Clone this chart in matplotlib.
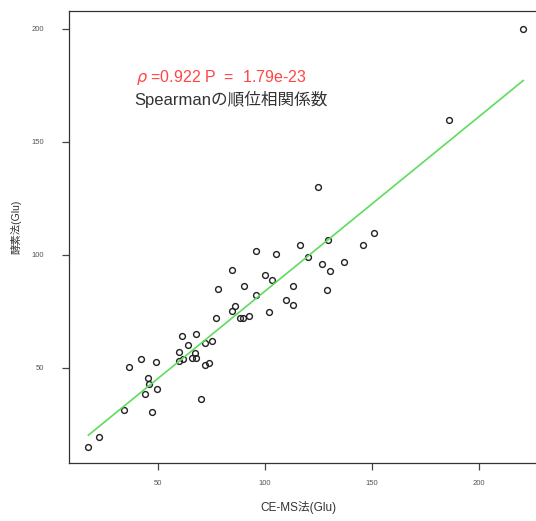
import numpy as np
import matplotlib
matplotlib.use("Agg")
import matplotlib.pyplot as plt

# CE-MS法 vs 酵素法 (Glu)
ce_ms = [17.6, 22.6, 34.1, 36.7, 42.2, 49.2, 45.6, 45.9, 44.2, 49.5,
         47.5, 59.8, 59.8, 61.7, 61.5, 64.3, 67.9, 67.4, 66.0, 67.9,
         72.0, 75.5, 72.1, 74.1, 70.4, 77.4, 78.3, 84.6, 86.3, 84.6,
         90.2, 88.6, 89.9, 92.8, 95.8, 95.9, 100.1, 103.6, 102.0, 105.3,
         110.0, 113.2, 113.2, 116.5, 120.4, 126.9, 129.7, 130.5, 129.1, 136.9,
         146.1, 151.1, 124.8, 186.1, 220.8]
enzyme = [14.8, 19.2, 31.3, 50.4, 53.7, 52.7, 45.6, 42.7, 38.4, 40.6,
          30.3, 56.8, 53.1, 53.7, 64.0, 60.2, 64.8, 56.5, 54.3, 54.3,
          60.8, 61.9, 51.1, 52.1, 36.2, 71.9, 84.7, 75.1, 77.2, 93.1,
          86.3, 71.9, 71.9, 72.9, 82.2, 101.6, 91.0, 88.8, 74.5, 100.3,
          80.1, 77.9, 86.2, 104.2, 98.8, 95.9, 106.5, 92.7, 84.4, 96.9,
          104.2, 109.5, 130.0, 159.6, 200.0]

rho_text = r"$\rho$ =0.922 P  =  1.79e-23"
title_text = "Spearmanの順位相関係数"
fonts = ["Liberation Sans", "Noto Sans CJK JP", "DejaVu Sans"]
plt.rcParams["font.family"] = fonts

x = np.array(ce_ms)
y = np.array(enzyme)

fig = plt.figure(figsize=(5.36, 5.21), dpi=100)
ax = fig.add_axes([69 / 536, 58 / 521, 472 / 536, 452 / 521])

ax.plot(x, y, "o", ms=4.2, mfc="none", mec="#222222", mew=1.0)

# 回帰直線
b, a = np.polyfit(x, y, 1)
xl = np.array([x.min(), x.max()])
ax.plot(xl, a + b * xl, color="#5ddc5d", lw=1.2)

ax.set_xlim(8.55, 229.1)
ax.set_ylim(7.8, 207.8)
ax.set_xticks([50, 100, 150, 200])
ax.set_yticks([50, 100, 150, 200])
ax.tick_params(labelsize=5.5, labelcolor="#555555", length=5, width=0.9,
               color="#444444")
ax.tick_params(axis="x", pad=7)
ax.tick_params(axis="y", pad=13)
for s in ax.spines.values():
    s.set_linewidth(0.9)
    s.set_color("#333333")

fig.text(136 / 536, 1 - 78 / 521, rho_text, color="#ff4545", fontsize=11.5,
         va="center", ha="left")
fig.text(134 / 536, 1 - 99 / 521, title_text, color="#333333", fontsize=12,
         va="center", ha="left")

fig.text(298 / 536, 1 - 508 / 521, "CE-MS法(Glu)", fontsize=8.5,
         color="#333333", ha="center", va="center")
fig.text(16 / 536, 1 - 227 / 521, "酵素法(Glu)", fontsize=7.5,
         color="#333333", ha="center", va="center", rotation=90)

fig.savefig("out.png", dpi=100)
